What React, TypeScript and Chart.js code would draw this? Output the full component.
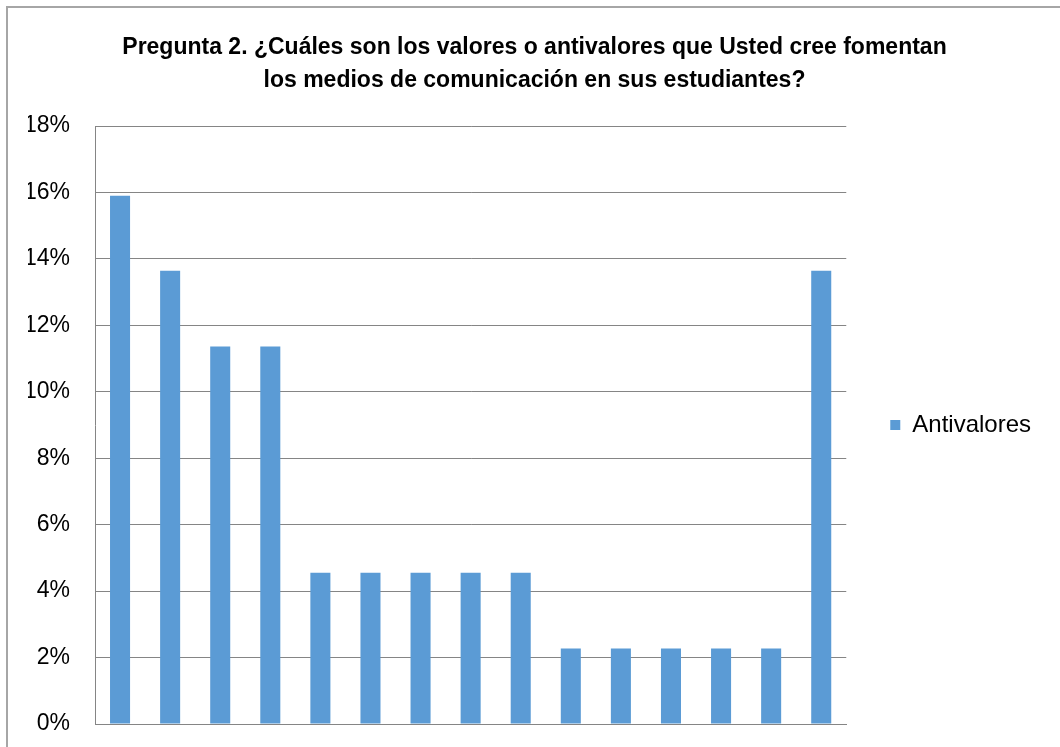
import React, { useEffect, useRef } from "react";
import { Chart, registerables } from "chart.js";

Chart.register(...registerables);

const TITLE_LINES = [
  "Pregunta 2. ¿Cuáles son los valores o antivalores que Usted cree fomentan",
  "los medios de comunicación en sus estudiantes?",
];
const CATEGORIES = [
  "A1", "A2", "A3", "A4", "A5", "A6", "A7", "A8",
  "A9", "A10", "A11", "A12", "A13", "A14", "A15",
];
const SERIES_NAME = "Antivalores";
const SERIES_VALUES = [
  0.159, 0.1364, 0.1136, 0.1136, 0.0455, 0.0455, 0.0455, 0.0455,
  0.0455, 0.0227, 0.0227, 0.0227, 0.0227, 0.0227, 0.1364,
];
const Y_MIN = 0;
const Y_MAX = 0.18;
const Y_STEP = 0.02;

export default function App() {
  const canvasRef = useRef<HTMLCanvasElement | null>(null);

  useEffect(() => {
    document.body.style.margin = "0";
    const canvas = canvasRef.current;
    if (!canvas) return;
    const font = "'Liberation Sans', Arial, sans-serif";
    const chart = new Chart(canvas, {
      type: "bar",
      data: {
        labels: CATEGORIES,
        datasets: [
          {
            label: SERIES_NAME,
            data: SERIES_VALUES,
            backgroundColor: "#5b9bd5",
            borderWidth: 0,
            categoryPercentage: 1,
            barPercentage: 0.4,
          },
        ],
      },
      options: {
        responsive: false,
        animation: false,
        layout: { padding: { left: 28, right: 19, top: 0, bottom: 23 } },
        plugins: {
          tooltip: { enabled: false },
          title: {
            display: true,
            text: TITLE_LINES,
            color: "#000",
            font: { family: font, size: 23, weight: "bold", lineHeight: 1.435 },
            padding: { top: 31, bottom: 29 },
          },
          legend: {
            position: "right",
            fullSize: false,
            labels: {
              boxWidth: 10,
              boxHeight: 10,
              padding: 44,
              color: "#000",
              font: { family: font, size: 24 },
            },
          },
        },
        scales: {
          x: {
            grid: { display: false, drawTicks: false },
            border: { display: true, color: "#858585", width: 1 },
            ticks: { display: false },
          },
          y: {
            min: Y_MIN,
            max: Y_MAX,
            afterFit: (s: any) => {
              s.width = 67;
            },
            grid: {
              color: "#858585",
              lineWidth: 1,
              drawTicks: true,
              tickLength: 25,
              tickColor: "rgba(0,0,0,0)",
            },
            border: { display: true, color: "#858585", width: 1 },
            ticks: {
              stepSize: Y_STEP,
              padding: 0,
              color: "#000",
              font: { family: font, size: 23 },
              callback: (v: any) => Math.round(Number(v) * 100) + "%",
            },
          },
        },
      },
    });
    return () => chart.destroy();
  }, []);

  return (
    <div style={{ position: "absolute", left: 0, top: 0, width: 1060, height: 747, background: "#fff", overflow: "hidden" }}>
      <div
        style={{
          position: "absolute",
          left: 6,
          top: 6,
          width: 1100,
          height: 800,
          borderLeft: "2px solid #a6a6a6",
          borderTop: "2px solid #a6a6a6",
        }}
      />
      <canvas ref={canvasRef} width={1060} height={747} style={{ position: "absolute", left: 0, top: 0 }} />
    </div>
  );
}
